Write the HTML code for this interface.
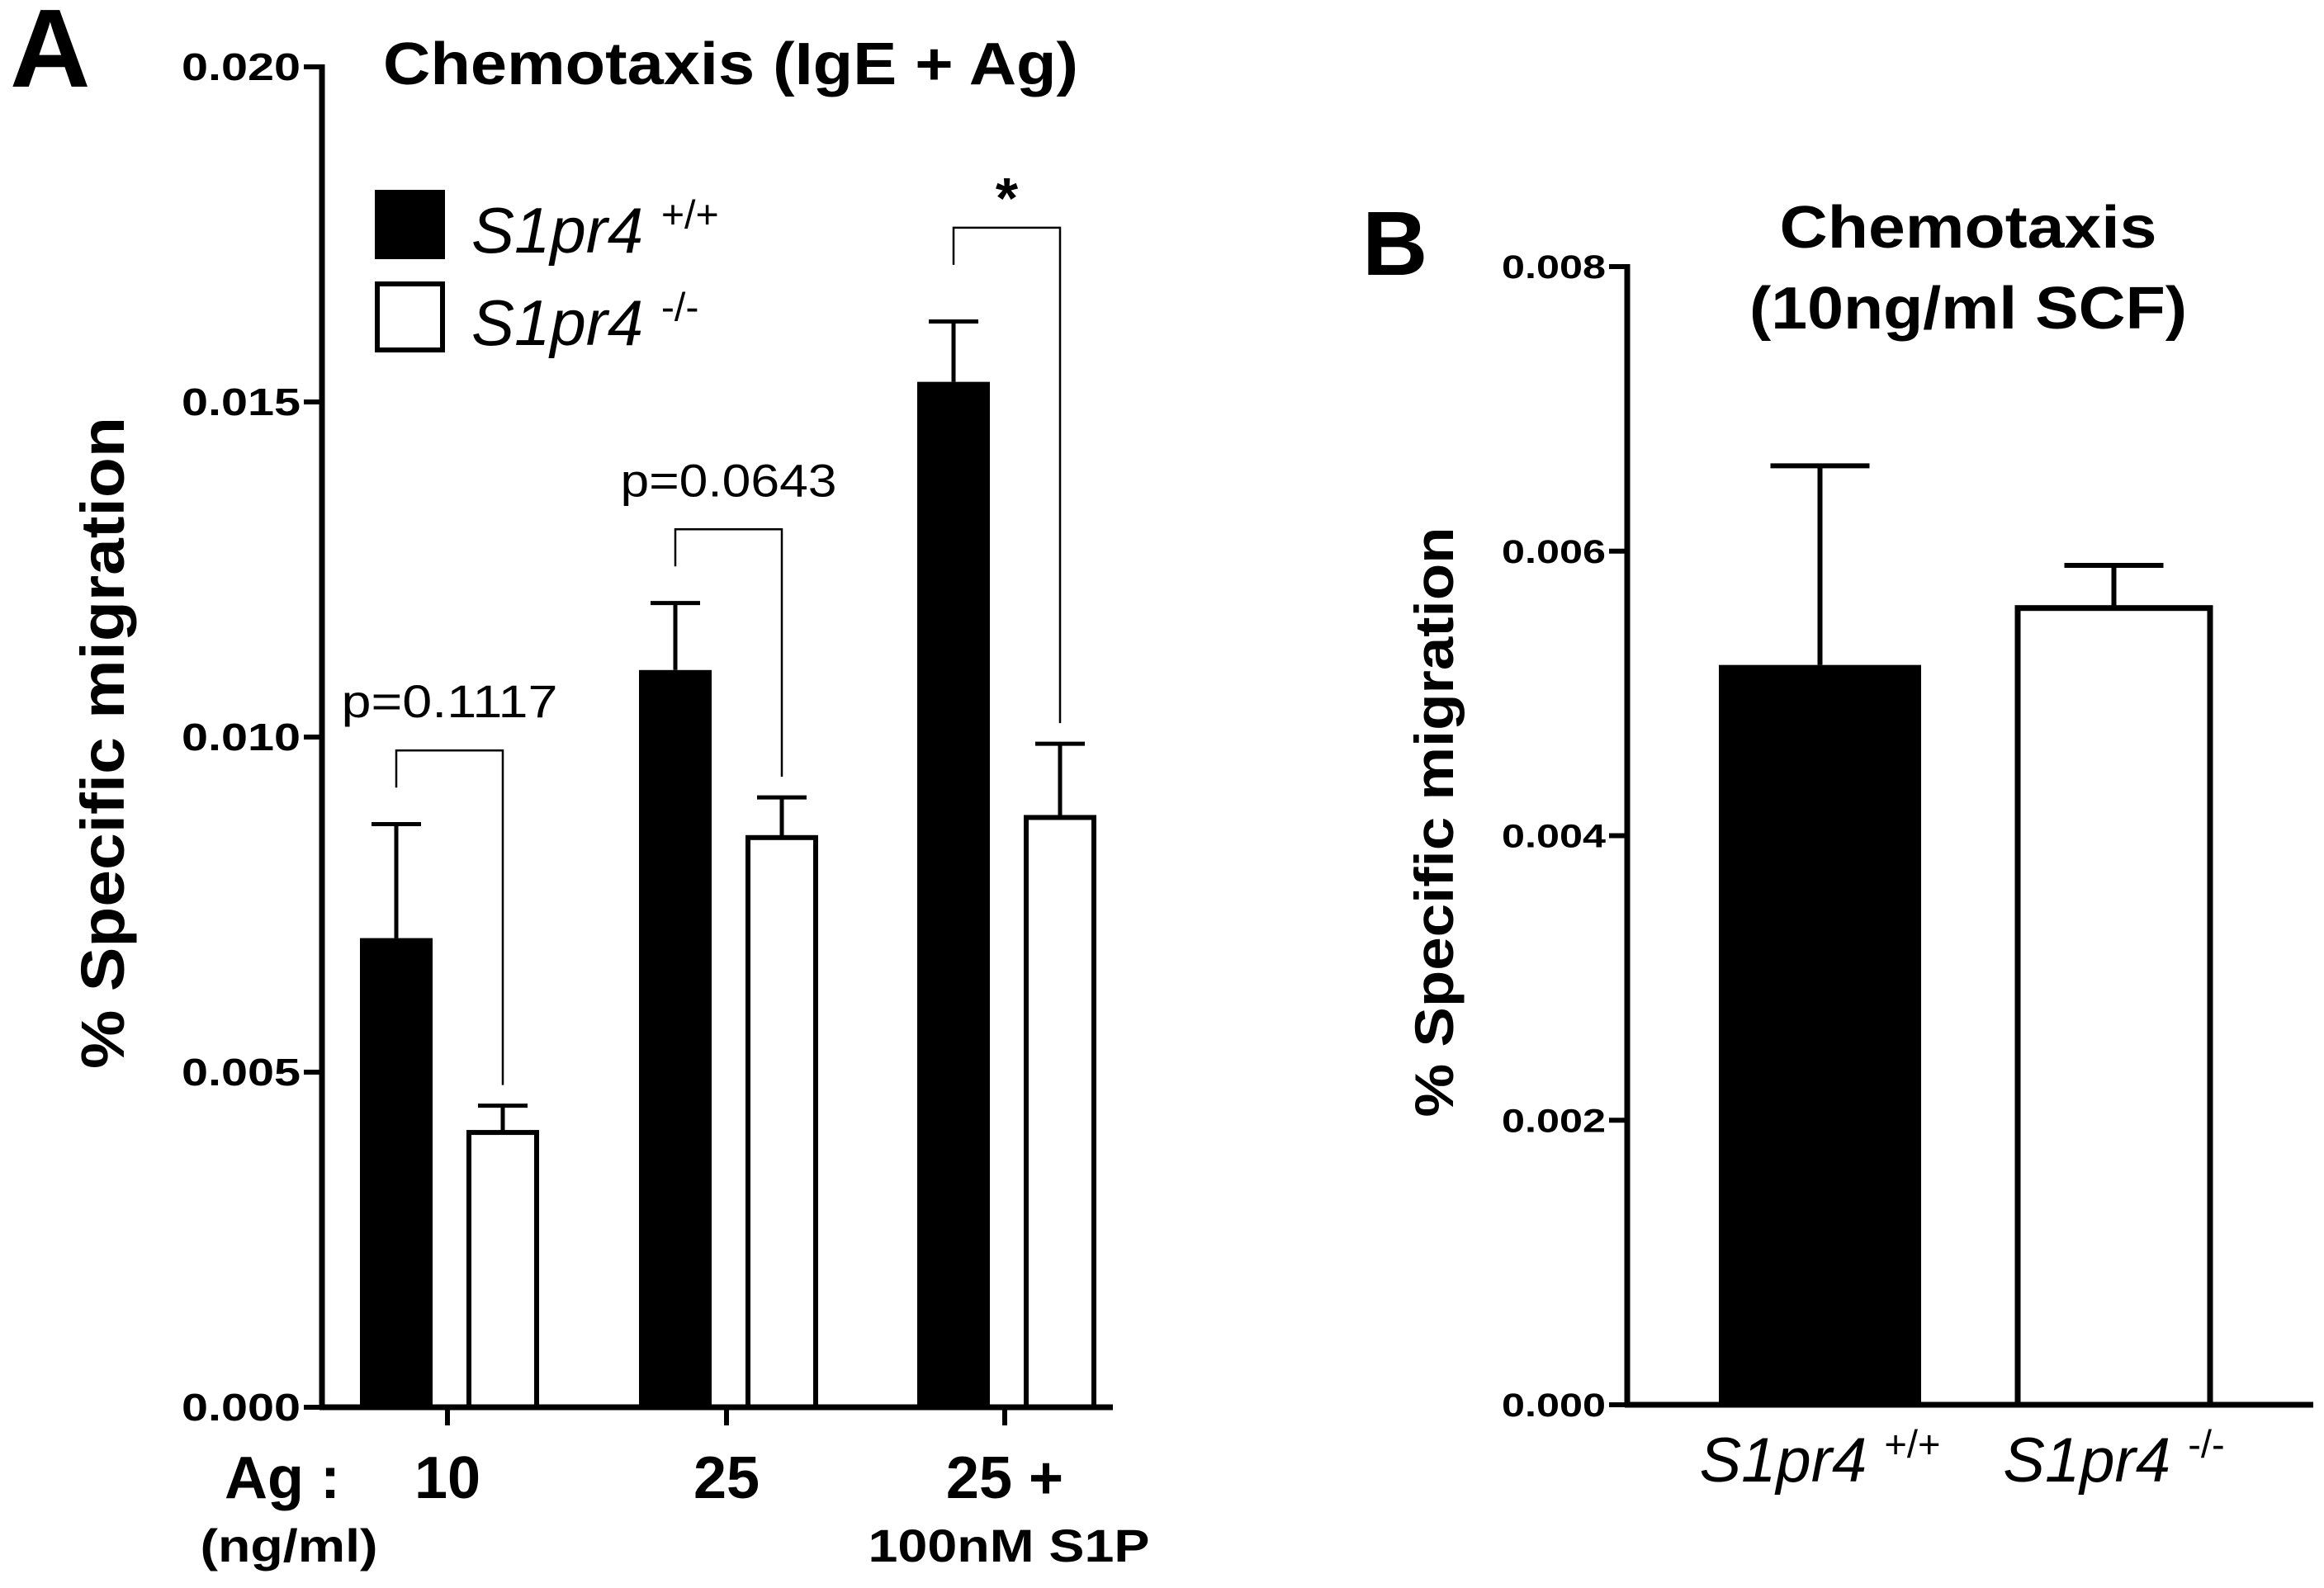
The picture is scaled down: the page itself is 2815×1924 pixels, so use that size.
<!DOCTYPE html>
<html><head><meta charset="utf-8"><style>
html,body{margin:0;padding:0;background:#fff;width:2815px;height:1924px;overflow:hidden}
svg{display:block;font-family:"Liberation Sans",Arial,sans-serif}
</style></head><body>
<svg id="fig" width="2815" height="1924" viewBox="0 0 2815 1924" xmlns="http://www.w3.org/2000/svg">
<g id="panelA"></g>
<g id="panelB"></g>
</svg>
<script>
const NS="http://www.w3.org/2000/svg";
// Panel A data
const aGroups=["10","25","25 +"];
const aWT=[0.0070,0.0110,0.0153];
const aWTerr=[0.0017,0.0010,0.0009];
const aKO=[0.0041,0.0085,0.0088];
const aKOerr=[0.0004,0.0006,0.0011];
const aTicks=[0,0.005,0.010,0.015,0.020];
const aTickLabels=["0.000","0.005","0.010","0.015","0.020"];
const aPLabels=["p=0.1117","p=0.0643","*"];
const aBracketTop=[0.0098,0.0131,0.0176];
// Panel B data
const bCats=["S1pr4 +/+","S1pr4 -/-"];
const bVals=[0.0052,0.0056];
const bErr=[0.0014,0.0003];
const bTicks=[0,0.002,0.004,0.006,0.008];
const bTickLabels=["0.000","0.002","0.004","0.006","0.008"];

function el(parent,tag,attrs,text){const e=document.createElementNS(NS,tag);for(const k in attrs)e.setAttribute(k,attrs[k]);if(text!==undefined)e.textContent=text;parent.appendChild(e);return e;}

// ---------- Panel A ----------
const A=document.getElementById('panelA');
const aX0=390,aY0=1705,aYT=81,aMax=0.020;
const ayS=v=>aY0-(v/aMax)*(aY0-aYT);
const aCenters=[542,880,1217];
const bw=88;
let t=el(A,'text',{x:12,y:105,'font-size':135,'font-weight':'bold'},'A');

t=el(A,'text',{x:885,y:102,'font-size':72,'font-weight':'bold','text-anchor':'middle',textLength:842,lengthAdjust:'spacingAndGlyphs'},'Chemotaxis (IgE + Ag)');

t=el(A,'text',{transform:'translate(150,900) rotate(-90)','font-size':74,'font-weight':'bold','text-anchor':'middle',textLength:790,lengthAdjust:'spacingAndGlyphs'},'% Specific migration');

aTicks.forEach((v,i)=>{
  const l=el(A,'line',{x1:aX0-22,x2:aX0,y1:ayS(v),y2:ayS(v),stroke:'#000','stroke-width':6});
  
  const tx=el(A,'text',{x:aX0-26,y:ayS(v)+16,'font-size':46,'font-weight':'bold','text-anchor':'end',textLength:144,lengthAdjust:'spacingAndGlyphs'},aTickLabels[i]);
  
});
aGroups.forEach((g,i)=>{
  const c=aCenters[i];
  const wtX=c-106, koX=c+23;
  let y=ayS(aWT[i]);
  let eb=el(A,'line',{x1:wtX+bw/2,x2:wtX+bw/2,y1:y,y2:ayS(aWT[i]+aWTerr[i]),stroke:'#000','stroke-width':5});
  
  eb=el(A,'line',{x1:wtX+bw/2-30,x2:wtX+bw/2+30,y1:ayS(aWT[i]+aWTerr[i]),y2:ayS(aWT[i]+aWTerr[i]),stroke:'#000','stroke-width':5});
  
  let r=el(A,'rect',{x:wtX,y:y,width:bw,height:aY0-y,fill:'#000'});
  
  y=ayS(aKO[i]);
  eb=el(A,'line',{x1:koX+bw/2,x2:koX+bw/2,y1:y,y2:ayS(aKO[i]+aKOerr[i]),stroke:'#000','stroke-width':5});
  
  eb=el(A,'line',{x1:koX+bw/2-30,x2:koX+bw/2+30,y1:ayS(aKO[i]+aKOerr[i]),y2:ayS(aKO[i]+aKOerr[i]),stroke:'#000','stroke-width':5});
  
  r=el(A,'rect',{x:koX+3,y:y,width:bw-6,height:aY0-y,fill:'#fff',stroke:'#000','stroke-width':6});
  
  const bt=ayS(aBracketTop[i]);
  const lx=wtX+bw/2, rx=koX+bw/2;
  const br=el(A,'polyline',{points:`${lx},${bt+45} ${lx},${bt} ${rx},${bt} ${rx},${ayS(aKO[i]+aKOerr[i])-25}`,fill:'none',stroke:'#000','stroke-width':2.5});
  
  const star=aPLabels[i]==='*';
  const attrs={x:(lx+rx)/2,y:star?bt-12:bt-40,'font-size':star?70:56,'font-weight':star?'bold':'normal','text-anchor':'middle'};
  if(!star){attrs.textLength=262;attrs.lengthAdjust='spacingAndGlyphs';}
  const pl=el(A,'text',attrs,aPLabels[i]);
  
  const tk=el(A,'line',{x1:c,x2:c,y1:aY0,y2:aY0+22,stroke:'#000','stroke-width':6});
  
  const xl=el(A,'text',{x:c,y:1815,'font-size':72,'font-weight':'bold','text-anchor':'middle'},g);
  
});
let ax=el(A,'line',{x1:aX0,x2:aX0,y1:aYT-3,y2:aY0+3,stroke:'#000','stroke-width':7});

ax=el(A,'line',{x1:aX0-3,x2:1348,y1:aY0,y2:aY0,stroke:'#000','stroke-width':7});

t=el(A,'text',{x:272,y:1815,'font-size':72,'font-weight':'bold'},'Ag :');

t=el(A,'text',{x:350,y:1892,'font-size':56,'font-weight':'bold','text-anchor':'middle',textLength:215,lengthAdjust:'spacingAndGlyphs'},'(ng/ml)');

t=el(A,'text',{x:1222,y:1892,'font-size':56,'font-weight':'bold','text-anchor':'middle',textLength:341,lengthAdjust:'spacingAndGlyphs'},'100nM S1P');

let lg=el(A,'rect',{x:454,y:230,width:85,height:84,fill:'#000'});

lg=el(A,'rect',{x:457,y:344,width:79,height:80,fill:'#fff',stroke:'#000','stroke-width':6});

function genoText(parent,x,y,fs,sup,name,anchor){
  const tt=el(parent,'text',{x:x,y:y,'font-size':fs,'font-style':'italic','text-anchor':anchor||'start'});
  
  el(tt,'tspan',{},'S1pr4 ');
  el(tt,'tspan',{'font-size':fs*0.62,dy:-fs*0.38,'font-style':'normal'},sup);
  return tt;
}
genoText(A,571,306,78,'+/+','legend-label-wt');
genoText(A,571,418,78,'-/-','legend-label-ko');

// ---------- Panel B ----------
const B=document.getElementById('panelB');
const bX0=1971,bY0=1702,bYT=323,bMax=0.008;
const byS=v=>bY0-(v/bMax)*(bY0-bYT);
const bX=[2082,2441], bW=[245,239];
t=el(B,'text',{x:1650,y:333,'font-size':110,'font-weight':'bold'},'B');

t=el(B,'text',{x:2384,y:300,'font-size':72,'font-weight':'bold','text-anchor':'middle',textLength:457,lengthAdjust:'spacingAndGlyphs'},'Chemotaxis');

t=el(B,'text',{x:2384,y:398,'font-size':72,'font-weight':'bold','text-anchor':'middle',textLength:530,lengthAdjust:'spacingAndGlyphs'},'(10ng/ml SCF)');

t=el(B,'text',{transform:'translate(1760,996) rotate(-90)','font-size':66,'font-weight':'bold','text-anchor':'middle',textLength:715,lengthAdjust:'spacingAndGlyphs'},'% Specific migration');

bTicks.forEach((v,i)=>{
  const l=el(B,'line',{x1:bX0-22,x2:bX0,y1:byS(v),y2:byS(v),stroke:'#000','stroke-width':6});
  
  const tx=el(B,'text',{x:bX0-26,y:byS(v)+14,'font-size':40,'font-weight':'bold','text-anchor':'end',textLength:126,lengthAdjust:'spacingAndGlyphs'},bTickLabels[i]);
  
});
bCats.forEach((c,i)=>{
  const x=bX[i],w=bW[i],y=byS(bVals[i]),cx=x+w/2;
  let eb=el(B,'line',{x1:cx,x2:cx,y1:y,y2:byS(bVals[i]+bErr[i]),stroke:'#000','stroke-width':6});
  
  eb=el(B,'line',{x1:cx-60,x2:cx+60,y1:byS(bVals[i]+bErr[i]),y2:byS(bVals[i]+bErr[i]),stroke:'#000','stroke-width':6});
  
  let r;
  if(i===0) r=el(B,'rect',{x:x,y:y,width:w,height:bY0-y,fill:'#000'});
  else r=el(B,'rect',{x:x+3,y:y,width:w-6,height:bY0-y,fill:'#fff',stroke:'#000','stroke-width':7});
  
  const parts=c.split(' ');
  genoText(B,cx,1795,76,parts[1],'x-tick-label-b','middle');
});
ax=el(B,'line',{x1:bX0,x2:bX0,y1:bYT-3,y2:bY0+3,stroke:'#000','stroke-width':7});

ax=el(B,'line',{x1:bX0-3,x2:2802,y1:bY0,y2:bY0,stroke:'#000','stroke-width':7});

</script>
</body></html>
